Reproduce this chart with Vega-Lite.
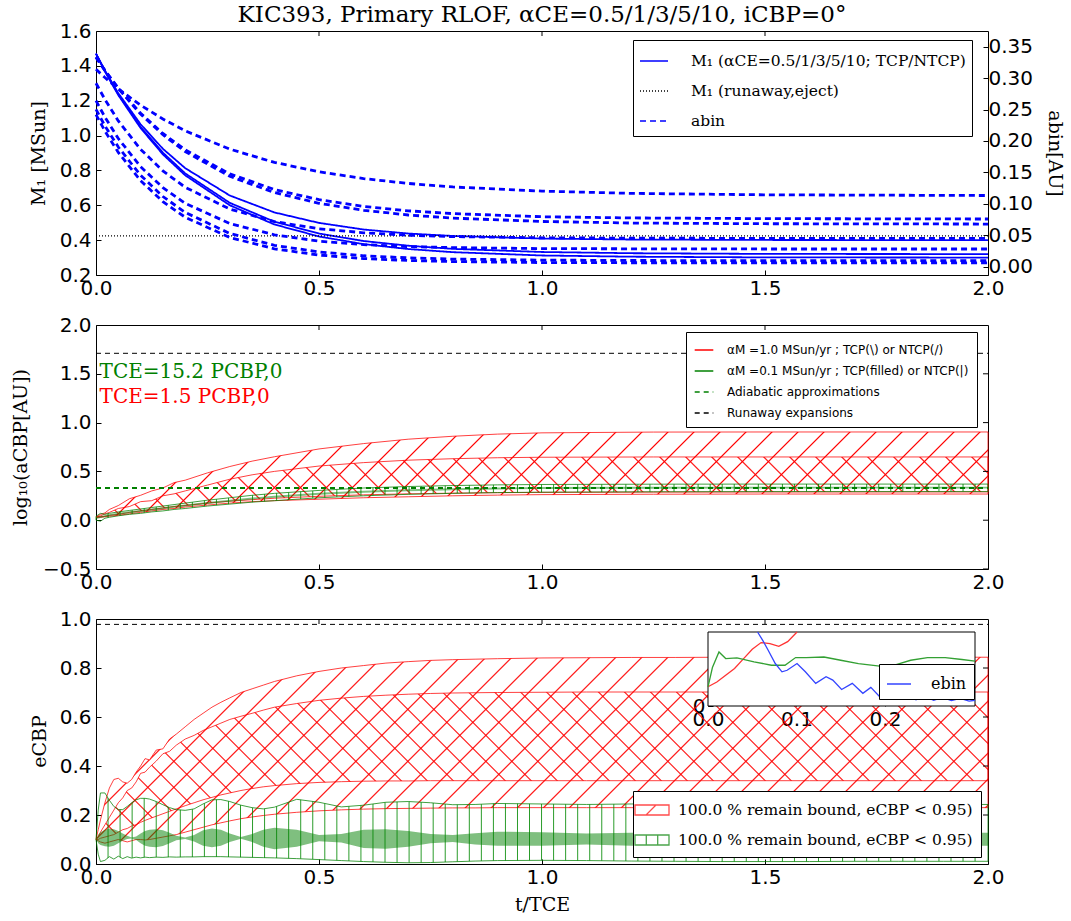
{
"$schema": "https://vega.github.io/schema/vega-lite/v6.json",
"background": "white",
"padding": {"left": 10, "top": 3, "right": 10, "bottom": 0},
"bounds": "flush",
"spacing": 50,
"config": {
  "font": "DejaVu Sans",
  "view": {"stroke": "black", "strokeWidth": 1},
  "axis": {"grid": false, "domain": false, "tickColor": "black", "tickSize": -5, "tickWidth": 1, "labelFont": "DejaVu Sans", "labelFontSize": 20, "labelColor": "black", "titleFont": "DejaVu Serif", "titleFontSize": 19, "titleFontWeight": "normal", "titleColor": "black", "labelOverlap": false, "labelFlush": false, "labelBound": false},
  "axisX": {"labelPadding": 8},
  "axisY": {"labelPadding": 10},
  "legend": {"labelColor": "black", "cornerRadius": 0, "strokeWidth": 1}
},
"params": [
  {"name": "gR", "value": {"gradient": "linear", "x1": 0, "y1": 0, "x2": 1, "y2": 0, "stops": [
{"offset":0.0188,"color":"#f000"},{"offset":0.02,"color":"#f00"},{"offset":0.0212,"color":"#f000"},
{"offset":0.0388,"color":"#f000"},{"offset":0.04,"color":"#f00"},{"offset":0.0412,"color":"#f000"},
{"offset":0.0588,"color":"#f000"},{"offset":0.06,"color":"#f00"},{"offset":0.0612,"color":"#f000"},
{"offset":0.0788,"color":"#f000"},{"offset":0.08,"color":"#f00"},{"offset":0.0812,"color":"#f000"},
{"offset":0.0988,"color":"#f000"},{"offset":0.1,"color":"#f00"},{"offset":0.1012,"color":"#f000"},
{"offset":0.1188,"color":"#f000"},{"offset":0.12,"color":"#f00"},{"offset":0.1212,"color":"#f000"},
{"offset":0.1388,"color":"#f000"},{"offset":0.14,"color":"#f00"},{"offset":0.1412,"color":"#f000"},
{"offset":0.1588,"color":"#f000"},{"offset":0.16,"color":"#f00"},{"offset":0.1612,"color":"#f000"},
{"offset":0.1788,"color":"#f000"},{"offset":0.18,"color":"#f00"},{"offset":0.1812,"color":"#f000"},
{"offset":0.1988,"color":"#f000"},{"offset":0.2,"color":"#f00"},{"offset":0.2012,"color":"#f000"},
{"offset":0.2188,"color":"#f000"},{"offset":0.22,"color":"#f00"},{"offset":0.2212,"color":"#f000"},
{"offset":0.2388,"color":"#f000"},{"offset":0.24,"color":"#f00"},{"offset":0.2412,"color":"#f000"},
{"offset":0.2588,"color":"#f000"},{"offset":0.26,"color":"#f00"},{"offset":0.2612,"color":"#f000"},
{"offset":0.2788,"color":"#f000"},{"offset":0.28,"color":"#f00"},{"offset":0.2812,"color":"#f000"},
{"offset":0.2988,"color":"#f000"},{"offset":0.3,"color":"#f00"},{"offset":0.3012,"color":"#f000"},
{"offset":0.3188,"color":"#f000"},{"offset":0.32,"color":"#f00"},{"offset":0.3212,"color":"#f000"},
{"offset":0.3388,"color":"#f000"},{"offset":0.34,"color":"#f00"},{"offset":0.3412,"color":"#f000"},
{"offset":0.3588,"color":"#f000"},{"offset":0.36,"color":"#f00"},{"offset":0.3612,"color":"#f000"},
{"offset":0.3788,"color":"#f000"},{"offset":0.38,"color":"#f00"},{"offset":0.3812,"color":"#f000"},
{"offset":0.3988,"color":"#f000"},{"offset":0.4,"color":"#f00"},{"offset":0.4012,"color":"#f000"},
{"offset":0.4188,"color":"#f000"},{"offset":0.42,"color":"#f00"},{"offset":0.4212,"color":"#f000"},
{"offset":0.4388,"color":"#f000"},{"offset":0.44,"color":"#f00"},{"offset":0.4412,"color":"#f000"},
{"offset":0.4588,"color":"#f000"},{"offset":0.46,"color":"#f00"},{"offset":0.4612,"color":"#f000"},
{"offset":0.4788,"color":"#f000"},{"offset":0.48,"color":"#f00"},{"offset":0.4812,"color":"#f000"},
{"offset":0.4988,"color":"#f000"},{"offset":0.5,"color":"#f00"},{"offset":0.5012,"color":"#f000"},
{"offset":0.5188,"color":"#f000"},{"offset":0.52,"color":"#f00"},{"offset":0.5212,"color":"#f000"},
{"offset":0.5388,"color":"#f000"},{"offset":0.54,"color":"#f00"},{"offset":0.5412,"color":"#f000"},
{"offset":0.5588,"color":"#f000"},{"offset":0.56,"color":"#f00"},{"offset":0.5612,"color":"#f000"},
{"offset":0.5788,"color":"#f000"},{"offset":0.58,"color":"#f00"},{"offset":0.5812,"color":"#f000"},
{"offset":0.5988,"color":"#f000"},{"offset":0.6,"color":"#f00"},{"offset":0.6012,"color":"#f000"},
{"offset":0.6188,"color":"#f000"},{"offset":0.62,"color":"#f00"},{"offset":0.6212,"color":"#f000"},
{"offset":0.6388,"color":"#f000"},{"offset":0.64,"color":"#f00"},{"offset":0.6412,"color":"#f000"},
{"offset":0.6588,"color":"#f000"},{"offset":0.66,"color":"#f00"},{"offset":0.6612,"color":"#f000"},
{"offset":0.6788,"color":"#f000"},{"offset":0.68,"color":"#f00"},{"offset":0.6812,"color":"#f000"},
{"offset":0.6988,"color":"#f000"},{"offset":0.7,"color":"#f00"},{"offset":0.7012,"color":"#f000"},
{"offset":0.7188,"color":"#f000"},{"offset":0.72,"color":"#f00"},{"offset":0.7212,"color":"#f000"},
{"offset":0.7388,"color":"#f000"},{"offset":0.74,"color":"#f00"},{"offset":0.7412,"color":"#f000"},
{"offset":0.7588,"color":"#f000"},{"offset":0.76,"color":"#f00"},{"offset":0.7612,"color":"#f000"},
{"offset":0.7788,"color":"#f000"},{"offset":0.78,"color":"#f00"},{"offset":0.7812,"color":"#f000"},
{"offset":0.7988,"color":"#f000"},{"offset":0.8,"color":"#f00"},{"offset":0.8012,"color":"#f000"},
{"offset":0.8188,"color":"#f000"},{"offset":0.82,"color":"#f00"},{"offset":0.8212,"color":"#f000"},
{"offset":0.8388,"color":"#f000"},{"offset":0.84,"color":"#f00"},{"offset":0.8412,"color":"#f000"}
  ]}},
  {"name": "gG", "value": {"gradient": "linear", "x1": 0, "y1": 0, "x2": 1, "y2": 0, "stops": [
{"offset":0.0124,"color":"#0800"},{"offset":0.0135,"color":"#080"},{"offset":0.0146,"color":"#0800"},
{"offset":0.0259,"color":"#0800"},{"offset":0.027,"color":"#080"},{"offset":0.0281,"color":"#0800"},
{"offset":0.0394,"color":"#0800"},{"offset":0.0405,"color":"#080"},{"offset":0.0416,"color":"#0800"},
{"offset":0.0529,"color":"#0800"},{"offset":0.054,"color":"#080"},{"offset":0.0551,"color":"#0800"},
{"offset":0.0664,"color":"#0800"},{"offset":0.0675,"color":"#080"},{"offset":0.0686,"color":"#0800"},
{"offset":0.0799,"color":"#0800"},{"offset":0.081,"color":"#080"},{"offset":0.0821,"color":"#0800"},
{"offset":0.0934,"color":"#0800"},{"offset":0.0945,"color":"#080"},{"offset":0.0956,"color":"#0800"},
{"offset":0.1069,"color":"#0800"},{"offset":0.108,"color":"#080"},{"offset":0.1091,"color":"#0800"},
{"offset":0.1204,"color":"#0800"},{"offset":0.1215,"color":"#080"},{"offset":0.1226,"color":"#0800"},
{"offset":0.1339,"color":"#0800"},{"offset":0.135,"color":"#080"},{"offset":0.1361,"color":"#0800"},
{"offset":0.1474,"color":"#0800"},{"offset":0.1485,"color":"#080"},{"offset":0.1496,"color":"#0800"},
{"offset":0.1609,"color":"#0800"},{"offset":0.162,"color":"#080"},{"offset":0.1631,"color":"#0800"},
{"offset":0.1744,"color":"#0800"},{"offset":0.1755,"color":"#080"},{"offset":0.1766,"color":"#0800"},
{"offset":0.1879,"color":"#0800"},{"offset":0.189,"color":"#080"},{"offset":0.1901,"color":"#0800"},
{"offset":0.2014,"color":"#0800"},{"offset":0.2025,"color":"#080"},{"offset":0.2036,"color":"#0800"},
{"offset":0.2149,"color":"#0800"},{"offset":0.216,"color":"#080"},{"offset":0.2171,"color":"#0800"},
{"offset":0.2284,"color":"#0800"},{"offset":0.2295,"color":"#080"},{"offset":0.2306,"color":"#0800"},
{"offset":0.2419,"color":"#0800"},{"offset":0.243,"color":"#080"},{"offset":0.2441,"color":"#0800"},
{"offset":0.2554,"color":"#0800"},{"offset":0.2565,"color":"#080"},{"offset":0.2576,"color":"#0800"},
{"offset":0.2689,"color":"#0800"},{"offset":0.27,"color":"#080"},{"offset":0.2711,"color":"#0800"},
{"offset":0.2824,"color":"#0800"},{"offset":0.2835,"color":"#080"},{"offset":0.2846,"color":"#0800"},
{"offset":0.2959,"color":"#0800"},{"offset":0.297,"color":"#080"},{"offset":0.2981,"color":"#0800"},
{"offset":0.3094,"color":"#0800"},{"offset":0.3105,"color":"#080"},{"offset":0.3116,"color":"#0800"},
{"offset":0.3229,"color":"#0800"},{"offset":0.324,"color":"#080"},{"offset":0.3251,"color":"#0800"},
{"offset":0.3364,"color":"#0800"},{"offset":0.3375,"color":"#080"},{"offset":0.3386,"color":"#0800"},
{"offset":0.3499,"color":"#0800"},{"offset":0.351,"color":"#080"},{"offset":0.3521,"color":"#0800"},
{"offset":0.3634,"color":"#0800"},{"offset":0.3645,"color":"#080"},{"offset":0.3656,"color":"#0800"},
{"offset":0.3769,"color":"#0800"},{"offset":0.378,"color":"#080"},{"offset":0.3791,"color":"#0800"},
{"offset":0.3904,"color":"#0800"},{"offset":0.3915,"color":"#080"},{"offset":0.3926,"color":"#0800"},
{"offset":0.4039,"color":"#0800"},{"offset":0.405,"color":"#080"},{"offset":0.4061,"color":"#0800"},
{"offset":0.4174,"color":"#0800"},{"offset":0.4185,"color":"#080"},{"offset":0.4196,"color":"#0800"},
{"offset":0.4309,"color":"#0800"},{"offset":0.432,"color":"#080"},{"offset":0.4331,"color":"#0800"},
{"offset":0.4444,"color":"#0800"},{"offset":0.4455,"color":"#080"},{"offset":0.4466,"color":"#0800"},
{"offset":0.4579,"color":"#0800"},{"offset":0.459,"color":"#080"},{"offset":0.4601,"color":"#0800"},
{"offset":0.4714,"color":"#0800"},{"offset":0.4725,"color":"#080"},{"offset":0.4736,"color":"#0800"},
{"offset":0.4849,"color":"#0800"},{"offset":0.486,"color":"#080"},{"offset":0.4871,"color":"#0800"},
{"offset":0.4984,"color":"#0800"},{"offset":0.4995,"color":"#080"},{"offset":0.5006,"color":"#0800"},
{"offset":0.5119,"color":"#0800"},{"offset":0.513,"color":"#080"},{"offset":0.5141,"color":"#0800"},
{"offset":0.5254,"color":"#0800"},{"offset":0.5265,"color":"#080"},{"offset":0.5276,"color":"#0800"},
{"offset":0.5389,"color":"#0800"},{"offset":0.54,"color":"#080"},{"offset":0.5411,"color":"#0800"},
{"offset":0.5524,"color":"#0800"},{"offset":0.5535,"color":"#080"},{"offset":0.5546,"color":"#0800"},
{"offset":0.5659,"color":"#0800"},{"offset":0.567,"color":"#080"},{"offset":0.5681,"color":"#0800"},
{"offset":0.5794,"color":"#0800"},{"offset":0.5805,"color":"#080"},{"offset":0.5816,"color":"#0800"},
{"offset":0.5929,"color":"#0800"},{"offset":0.594,"color":"#080"},{"offset":0.5951,"color":"#0800"},
{"offset":0.6064,"color":"#0800"},{"offset":0.6075,"color":"#080"},{"offset":0.6086,"color":"#0800"},
{"offset":0.6199,"color":"#0800"},{"offset":0.621,"color":"#080"},{"offset":0.6221,"color":"#0800"},
{"offset":0.6334,"color":"#0800"},{"offset":0.6345,"color":"#080"},{"offset":0.6356,"color":"#0800"},
{"offset":0.6469,"color":"#0800"},{"offset":0.648,"color":"#080"},{"offset":0.6491,"color":"#0800"},
{"offset":0.6604,"color":"#0800"},{"offset":0.6615,"color":"#080"},{"offset":0.6626,"color":"#0800"},
{"offset":0.6739,"color":"#0800"},{"offset":0.675,"color":"#080"},{"offset":0.6761,"color":"#0800"},
{"offset":0.6874,"color":"#0800"},{"offset":0.6885,"color":"#080"},{"offset":0.6896,"color":"#0800"},
{"offset":0.7009,"color":"#0800"},{"offset":0.702,"color":"#080"},{"offset":0.7031,"color":"#0800"},
{"offset":0.7144,"color":"#0800"},{"offset":0.7155,"color":"#080"},{"offset":0.7166,"color":"#0800"},
{"offset":0.7279,"color":"#0800"},{"offset":0.729,"color":"#080"},{"offset":0.7301,"color":"#0800"},
{"offset":0.7414,"color":"#0800"},{"offset":0.7425,"color":"#080"},{"offset":0.7436,"color":"#0800"},
{"offset":0.7549,"color":"#0800"},{"offset":0.756,"color":"#080"},{"offset":0.7571,"color":"#0800"},
{"offset":0.7684,"color":"#0800"},{"offset":0.7695,"color":"#080"},{"offset":0.7706,"color":"#0800"},
{"offset":0.7819,"color":"#0800"},{"offset":0.783,"color":"#080"},{"offset":0.7841,"color":"#0800"},
{"offset":0.7954,"color":"#0800"},{"offset":0.7965,"color":"#080"},{"offset":0.7976,"color":"#0800"},
{"offset":0.8089,"color":"#0800"},{"offset":0.81,"color":"#080"},{"offset":0.8111,"color":"#0800"},
{"offset":0.8224,"color":"#0800"},{"offset":0.8235,"color":"#080"},{"offset":0.8246,"color":"#0800"},
{"offset":0.8359,"color":"#0800"},{"offset":0.837,"color":"#080"},{"offset":0.8381,"color":"#0800"},
{"offset":0.8494,"color":"#0800"},{"offset":0.8505,"color":"#080"},{"offset":0.8516,"color":"#0800"},
{"offset":0.8629,"color":"#0800"},{"offset":0.864,"color":"#080"},{"offset":0.8651,"color":"#0800"},
{"offset":0.8764,"color":"#0800"},{"offset":0.8775,"color":"#080"},{"offset":0.8786,"color":"#0800"},
{"offset":0.8899,"color":"#0800"},{"offset":0.891,"color":"#080"},{"offset":0.8921,"color":"#0800"},
{"offset":0.9034,"color":"#0800"},{"offset":0.9045,"color":"#080"},{"offset":0.9056,"color":"#0800"},
{"offset":0.9169,"color":"#0800"},{"offset":0.918,"color":"#080"},{"offset":0.9191,"color":"#0800"},
{"offset":0.9304,"color":"#0800"},{"offset":0.9315,"color":"#080"},{"offset":0.9326,"color":"#0800"},
{"offset":0.9439,"color":"#0800"},{"offset":0.945,"color":"#080"},{"offset":0.9461,"color":"#0800"},
{"offset":0.9574,"color":"#0800"},{"offset":0.9585,"color":"#080"},{"offset":0.9596,"color":"#0800"},
{"offset":0.9709,"color":"#0800"},{"offset":0.972,"color":"#080"},{"offset":0.9731,"color":"#0800"},
{"offset":0.9844,"color":"#0800"},{"offset":0.9855,"color":"#080"},{"offset":0.9866,"color":"#0800"}
  ]}}
],
"datasets": {
  "p1": [
    {"t":0,"S1":1.47,"S2":1.47,"S3":1.47,"D1":0.314,"D2":0.3334,"D3":0.3334,"D4":0.2918,"D5":0.2641,"D6":0.2502,"D7":0.2419},
    {"t":0.02,"S1":1.373,"S2":1.37,"S3":1.368,"D1":0.3009,"D2":0.3123,"D3":0.312,"D4":0.266,"D5":0.238,"D6":0.2241,"D7":0.2158},
    {"t":0.05,"S1":1.243,"S2":1.237,"S3":1.232,"D1":0.2829,"D2":0.284,"D3":0.2835,"D4":0.2319,"D5":0.2039,"D6":0.1903,"D7":0.1817},
    {"t":0.1,"S1":1.065,"S2":1.05,"S3":1.043,"D1":0.2569,"D2":0.2441,"D3":0.2427,"D4":0.1867,"D5":0.159,"D6":0.1454,"D7":0.1368},
    {"t":0.15,"S1":0.924,"S2":0.902,"S3":0.892,"D1":0.235,"D2":0.2119,"D3":0.21,"D4":0.1523,"D5":0.1257,"D6":0.1116,"D7":0.1035},
    {"t":0.2,"S1":0.813,"S2":0.783,"S3":0.772,"D1":0.2161,"D2":0.1859,"D3":0.1831,"D4":0.1263,"D5":0.1008,"D6":0.0863,"D7":0.0786},
    {"t":0.3,"S1":0.656,"S2":0.614,"S3":0.6,"D1":0.187,"D2":0.1476,"D3":0.1437,"D4":0.0916,"D5":0.0686,"D6":0.0528,"D7":0.0464},
    {"t":0.4,"S1":0.559,"S2":0.506,"S3":0.49,"D1":0.1659,"D2":0.1227,"D3":0.1179,"D4":0.0716,"D5":0.0506,"D6":0.0339,"D7":0.0284},
    {"t":0.5,"S1":0.499,"S2":0.438,"S3":0.421,"D1":0.1509,"D2":0.1066,"D3":0.1008,"D4":0.0603,"D5":0.0406,"D6":0.0234,"D7":0.0184},
    {"t":0.6,"S1":0.461,"S2":0.395,"S3":0.377,"D1":0.1401,"D2":0.0958,"D3":0.0897,"D4":0.0539,"D5":0.035,"D6":0.0173,"D7":0.0129},
    {"t":0.7,"S1":0.438,"S2":0.368,"S3":0.349,"D1":0.1324,"D2":0.0888,"D3":0.0822,"D4":0.05,"D5":0.032,"D6":0.014,"D7":0.0098},
    {"t":0.8,"S1":0.424,"S2":0.35,"S3":0.331,"D1":0.1268,"D2":0.0844,"D3":0.0772,"D4":0.0478,"D5":0.0303,"D6":0.012,"D7":0.0081},
    {"t":1.0,"S1":0.409,"S2":0.332,"S3":0.312,"D1":0.1202,"D2":0.0794,"D3":0.0719,"D4":0.0459,"D5":0.0287,"D6":0.0104,"D7":0.0065},
    {"t":1.2,"S1":0.4035,"S2":0.325,"S3":0.305,"D1":0.1166,"D2":0.0775,"D3":0.0694,"D4":0.0453,"D5":0.0284,"D6":0.0098,"D7":0.0062},
    {"t":1.5,"S1":0.401,"S2":0.321,"S3":0.301,"D1":0.1143,"D2":0.0764,"D3":0.0683,"D4":0.045,"D5":0.0281,"D6":0.0095,"D7":0.0059},
    {"t":2.0,"S1":0.4,"S2":0.32,"S3":0.3,"D1":0.1132,"D2":0.0758,"D3":0.0678,"D4":0.045,"D5":0.0281,"D6":0.0095,"D7":0.0059}
  ],
  "p2": [
    {"t":0,"rU":0.03,"rM":0.03,"rL":0.03,"rL2":0.03,"gU":0.04,"gL":0.0,"fU":0.032,"fL":0.012},
    {"t":0.01,"rU":0.06,"rM":0.045,"rL":0.03,"rL2":0.035,"gU":0.07,"gL":-0.01,"fU":0.042,"fL":0.022},
    {"t":0.02,"rU":0.075,"rM":0.065,"rL":0.035,"rL2":0.04,"gU":0.06,"gL":0.02,"fU":0.052,"fL":0.032},
    {"t":0.03,"rU":0.11,"rM":0.08,"rL":0.04,"rL2":0.05,"gU":0.07,"gL":0.03,"fU":0.062,"fL":0.042},
    {"t":0.05,"rU":0.15,"rM":0.12,"rL":0.05,"rL2":0.06,"gU":0.085,"gL":0.045,"fU":0.077,"fL":0.057},
    {"t":0.075,"rU":0.22,"rM":0.14,"rL":0.065,"rL2":0.08,"gU":0.1,"gL":0.06,"fU":0.092,"fL":0.072},
    {"t":0.1,"rU":0.255,"rM":0.19,"rL":0.08,"rL2":0.095,"gU":0.115,"gL":0.07,"fU":0.105,"fL":0.085},
    {"t":0.125,"rU":0.3,"rM":0.2,"rL":0.095,"rL2":0.11,"gU":0.13,"gL":0.085,"fU":0.12,"fL":0.1},
    {"t":0.15,"rU":0.33,"rM":0.25,"rL":0.11,"rL2":0.125,"gU":0.145,"gL":0.095,"fU":0.132,"fL":0.112},
    {"t":0.175,"rU":0.385,"rM":0.27,"rL":0.12,"rL2":0.14,"gU":0.16,"gL":0.11,"fU":0.147,"fL":0.127},
    {"t":0.2,"rU":0.41,"rM":0.3,"rL":0.135,"rL2":0.15,"gU":0.175,"gL":0.12,"fU":0.16,"fL":0.14},
    {"t":0.25,"rU":0.485,"rM":0.36,"rL":0.155,"rL2":0.175,"gU":0.205,"gL":0.145,"fU":0.187,"fL":0.167},
    {"t":0.3,"rU":0.55,"rM":0.42,"rL":0.175,"rL2":0.195,"gU":0.23,"gL":0.165,"fU":0.21,"fL":0.19},
    {"t":0.35,"rU":0.605,"rM":0.465,"rL":0.19,"rL2":0.21,"gU":0.255,"gL":0.185,"fU":0.232,"fL":0.212},
    {"t":0.4,"rU":0.65,"rM":0.5,"rL":0.2,"rL2":0.225,"gU":0.275,"gL":0.2,"fU":0.25,"fL":0.23},
    {"t":0.5,"rU":0.73,"rM":0.555,"rL":0.215,"rL2":0.245,"gU":0.305,"gL":0.23,"fU":0.28,"fL":0.26},
    {"t":0.6,"rU":0.785,"rM":0.59,"rL":0.23,"rL2":0.26,"gU":0.33,"gL":0.25,"fU":0.302,"fL":0.282},
    {"t":0.7,"rU":0.83,"rM":0.615,"rL":0.24,"rL2":0.27,"gU":0.345,"gL":0.265,"fU":0.317,"fL":0.297},
    {"t":0.8,"rU":0.86,"rM":0.63,"rL":0.25,"rL2":0.277,"gU":0.355,"gL":0.275,"fU":0.327,"fL":0.307},
    {"t":0.9,"rU":0.882,"rM":0.64,"rL":0.257,"rL2":0.282,"gU":0.362,"gL":0.283,"fU":0.335,"fL":0.315},
    {"t":1.0,"rU":0.895,"rM":0.645,"rL":0.262,"rL2":0.285,"gU":0.366,"gL":0.287,"fU":0.339,"fL":0.319},
    {"t":1.25,"rU":0.903,"rM":0.648,"rL":0.266,"rL2":0.288,"gU":0.369,"gL":0.291,"fU":0.342,"fL":0.322},
    {"t":1.5,"rU":0.904,"rM":0.648,"rL":0.268,"rL2":0.289,"gU":0.37,"gL":0.293,"fU":0.344,"fL":0.324},
    {"t":2.0,"rU":0.904,"rM":0.648,"rL":0.268,"rL2":0.29,"gU":0.37,"gL":0.293,"fU":0.344,"fL":0.324}
  ],
  "p3": [
    {"t":0,"U":0.1,"T":0.1,"M":0.1,"L":0.1,"gU":0.1,"gL":0.1,"fU":0.1,"fL":0.1},
    {"t":0.005,"U":0.14,"T":0.11,"M":0.1,"L":0.095,"gU":0.22,"gL":0.04,"fU":0.12,"fL":0.085},
    {"t":0.01,"U":0.18,"T":0.13,"M":0.105,"L":0.09,"gU":0.29,"gL":0.01,"fU":0.13,"fL":0.078},
    {"t":0.02,"U":0.25,"T":0.16,"M":0.11,"L":0.085,"gU":0.29,"gL":0.015,"fU":0.14,"fL":0.072},
    {"t":0.03,"U":0.31,"T":0.19,"M":0.115,"L":0.09,"gU":0.26,"gL":0.03,"fU":0.145,"fL":0.07},
    {"t":0.04,"U":0.345,"T":0.22,"M":0.12,"L":0.095,"gU":0.235,"gL":0.02,"fU":0.142,"fL":0.075},
    {"t":0.05,"U":0.35,"T":0.25,"M":0.13,"L":0.1,"gU":0.222,"gL":0.032,"fU":0.135,"fL":0.085},
    {"t":0.06,"U":0.335,"T":0.27,"M":0.14,"L":0.095,"gU":0.222,"gL":0.022,"fU":0.125,"fL":0.095},
    {"t":0.07,"U":0.33,"T":0.3,"M":0.145,"L":0.09,"gU":0.235,"gL":0.03,"fU":0.115,"fL":0.102},
    {"t":0.08,"U":0.345,"T":0.31,"M":0.155,"L":0.095,"gU":0.25,"gL":0.024,"fU":0.108,"fL":0.104},
    {"t":0.09,"U":0.375,"T":0.335,"M":0.16,"L":0.1,"gU":0.262,"gL":0.028,"fU":0.112,"fL":0.098},
    {"t":0.1,"U":0.4,"T":0.37,"M":0.17,"L":0.1,"gU":0.268,"gL":0.025,"fU":0.125,"fL":0.085},
    {"t":0.11,"U":0.43,"T":0.375,"M":0.178,"L":0.098,"gU":0.268,"gL":0.028,"fU":0.135,"fL":0.075},
    {"t":0.12,"U":0.425,"T":0.395,"M":0.185,"L":0.1,"gU":0.265,"gL":0.026,"fU":0.14,"fL":0.07},
    {"t":0.135,"U":0.465,"T":0.42,"M":0.195,"L":0.105,"gU":0.255,"gL":0.028,"fU":0.142,"fL":0.068},
    {"t":0.15,"U":0.47,"T":0.45,"M":0.205,"L":0.11,"gU":0.242,"gL":0.027,"fU":0.138,"fL":0.073},
    {"t":0.165,"U":0.51,"T":0.46,"M":0.215,"L":0.115,"gU":0.23,"gL":0.029,"fU":0.128,"fL":0.085},
    {"t":0.18,"U":0.53,"T":0.485,"M":0.225,"L":0.12,"gU":0.222,"gL":0.028,"fU":0.115,"fL":0.097},
    {"t":0.2,"U":0.56,"T":0.51,"M":0.238,"L":0.13,"gU":0.219,"gL":0.029,"fU":0.108,"fL":0.102},
    {"t":0.22,"U":0.59,"T":0.525,"M":0.25,"L":0.14,"gU":0.225,"gL":0.029,"fU":0.118,"fL":0.092},
    {"t":0.24,"U":0.615,"T":0.545,"M":0.262,"L":0.15,"gU":0.245,"gL":0.03,"fU":0.138,"fL":0.075},
    {"t":0.26,"U":0.64,"T":0.56,"M":0.272,"L":0.16,"gU":0.262,"gL":0.03,"fU":0.145,"fL":0.068},
    {"t":0.28,"U":0.66,"T":0.575,"M":0.282,"L":0.168,"gU":0.263,"gL":0.03,"fU":0.14,"fL":0.075},
    {"t":0.3,"U":0.678,"T":0.59,"M":0.29,"L":0.176,"gU":0.255,"gL":0.029,"fU":0.125,"fL":0.09},
    {"t":0.325,"U":0.7,"T":0.603,"M":0.3,"L":0.185,"gU":0.24,"gL":0.028,"fU":0.11,"fL":0.103},
    {"t":0.35,"U":0.715,"T":0.615,"M":0.308,"L":0.192,"gU":0.23,"gL":0.027,"fU":0.122,"fL":0.09},
    {"t":0.375,"U":0.73,"T":0.628,"M":0.315,"L":0.198,"gU":0.225,"gL":0.026,"fU":0.14,"fL":0.07},
    {"t":0.4,"U":0.745,"T":0.64,"M":0.32,"L":0.203,"gU":0.232,"gL":0.025,"fU":0.148,"fL":0.06},
    {"t":0.45,"U":0.768,"T":0.655,"M":0.328,"L":0.211,"gU":0.264,"gL":0.022,"fU":0.14,"fL":0.07},
    {"t":0.5,"U":0.786,"T":0.668,"M":0.333,"L":0.217,"gU":0.252,"gL":0.018,"fU":0.118,"fL":0.093},
    {"t":0.55,"U":0.8,"T":0.677,"M":0.336,"L":0.221,"gU":0.233,"gL":0.014,"fU":0.122,"fL":0.088},
    {"t":0.6,"U":0.81,"T":0.684,"M":0.338,"L":0.224,"gU":0.24,"gL":0.01,"fU":0.14,"fL":0.065},
    {"t":0.65,"U":0.82,"T":0.689,"M":0.339,"L":0.226,"gU":0.252,"gL":0.007,"fU":0.142,"fL":0.062},
    {"t":0.7,"U":0.826,"T":0.693,"M":0.339,"L":0.227,"gU":0.255,"gL":0.005,"fU":0.135,"fL":0.07},
    {"t":0.75,"U":0.831,"T":0.696,"M":0.34,"L":0.228,"gU":0.25,"gL":0.006,"fU":0.122,"fL":0.085},
    {"t":0.8,"U":0.834,"T":0.698,"M":0.34,"L":0.229,"gU":0.242,"gL":0.009,"fU":0.118,"fL":0.09},
    {"t":0.85,"U":0.836,"T":0.699,"M":0.34,"L":0.229,"gU":0.243,"gL":0.012,"fU":0.126,"fL":0.08},
    {"t":0.9,"U":0.838,"T":0.7,"M":0.34,"L":0.23,"gU":0.247,"gL":0.014,"fU":0.132,"fL":0.074},
    {"t":1.0,"U":0.841,"T":0.701,"M":0.34,"L":0.23,"gU":0.245,"gL":0.015,"fU":0.13,"fL":0.075},
    {"t":1.1,"U":0.842,"T":0.702,"M":0.34,"L":0.23,"gU":0.243,"gL":0.014,"fU":0.124,"fL":0.08},
    {"t":1.2,"U":0.843,"T":0.702,"M":0.34,"L":0.23,"gU":0.245,"gL":0.012,"fU":0.128,"fL":0.075},
    {"t":1.3,"U":0.843,"T":0.702,"M":0.34,"L":0.23,"gU":0.244,"gL":0.011,"fU":0.13,"fL":0.072},
    {"t":1.4,"U":0.844,"T":0.702,"M":0.34,"L":0.23,"gU":0.243,"gL":0.01,"fU":0.127,"fL":0.076},
    {"t":1.5,"U":0.844,"T":0.702,"M":0.34,"L":0.23,"gU":0.244,"gL":0.01,"fU":0.128,"fL":0.073},
    {"t":1.6,"U":0.844,"T":0.702,"M":0.34,"L":0.23,"gU":0.243,"gL":0.01,"fU":0.13,"fL":0.072},
    {"t":1.7,"U":0.844,"T":0.702,"M":0.34,"L":0.23,"gU":0.243,"gL":0.011,"fU":0.128,"fL":0.074},
    {"t":1.8,"U":0.844,"T":0.702,"M":0.34,"L":0.23,"gU":0.243,"gL":0.011,"fU":0.127,"fL":0.075},
    {"t":1.9,"U":0.844,"T":0.702,"M":0.34,"L":0.23,"gU":0.243,"gL":0.011,"fU":0.129,"fL":0.073},
    {"t":2.0,"U":0.844,"T":0.702,"M":0.34,"L":0.23,"gU":0.243,"gL":0.011,"fU":0.128,"fL":0.074}
  ],
  "inset": [
    {"s":"r","t":0,"v":0.1},{"s":"r","t":0.01,"v":0.125},{"s":"r","t":0.02,"v":0.16},{"s":"r","t":0.03,"v":0.195},{"s":"r","t":0.04,"v":0.245},{"s":"r","t":0.05,"v":0.295},{"s":"r","t":0.06,"v":0.33},{"s":"r","t":0.07,"v":0.325},{"s":"r","t":0.08,"v":0.31},{"s":"r","t":0.09,"v":0.335},{"s":"r","t":0.1006,"v":0.385},
    {"s":"g","t":0,"v":0.1},{"s":"g","t":0.005,"v":0.2},{"s":"g","t":0.0124,"v":0.281},{"s":"g","t":0.02,"v":0.247},{"s":"g","t":0.0327,"v":0.25},{"s":"g","t":0.052,"v":0.23},{"s":"g","t":0.0716,"v":0.212},{"s":"g","t":0.087,"v":0.212},{"s":"g","t":0.099,"v":0.252},{"s":"g","t":0.111,"v":0.252},{"s":"g","t":0.131,"v":0.255},{"s":"g","t":0.15,"v":0.238},{"s":"g","t":0.17,"v":0.221},{"s":"g","t":0.194,"v":0.207},{"s":"g","t":0.209,"v":0.21},{"s":"g","t":0.229,"v":0.238},{"s":"g","t":0.248,"v":0.252},{"s":"g","t":0.268,"v":0.252},{"s":"g","t":0.287,"v":0.242},{"s":"g","t":0.3017,"v":0.233},
    {"s":"ebin","t":0.056,"v":0.385},{"s":"ebin","t":0.062,"v":0.34},{"s":"ebin","t":0.068,"v":0.29},{"s":"ebin","t":0.076,"v":0.221},{"s":"ebin","t":0.0836,"v":0.178},{"s":"ebin","t":0.0894,"v":0.186},{"s":"ebin","t":0.1006,"v":0.221},{"s":"ebin","t":0.11,"v":0.178},{"s":"ebin","t":0.1217,"v":0.118},{"s":"ebin","t":0.1334,"v":0.152},{"s":"ebin","t":0.141,"v":0.135},{"s":"ebin","t":0.151,"v":0.086},{"s":"ebin","t":0.163,"v":0.118},{"s":"ebin","t":0.175,"v":0.066},{"s":"ebin","t":0.184,"v":0.097},{"s":"ebin","t":0.194,"v":0.048},{"s":"ebin","t":0.205,"v":0.07},{"s":"ebin","t":0.215,"v":0.04},{"s":"ebin","t":0.225,"v":0.058},{"s":"ebin","t":0.235,"v":0.032},{"s":"ebin","t":0.245,"v":0.05},{"s":"ebin","t":0.255,"v":0.03},{"s":"ebin","t":0.265,"v":0.045},{"s":"ebin","t":0.275,"v":0.028},{"s":"ebin","t":0.285,"v":0.04},{"s":"ebin","t":0.295,"v":0.025},{"s":"ebin","t":0.3017,"v":0.03}
  ]
},
"resolve": {"scale": {"stroke": "independent", "strokeDash": "independent", "shape": "independent", "color": "independent"}, "legend": {"stroke": "independent", "strokeDash": "independent", "shape": "independent"}},
"vconcat": [
  {
    "width": 892, "height": 244,
    "title": {"text": "KIC393, Primary RLOF, αCE=0.5/1/3/5/10, iCBP=0°", "frame": "group", "anchor": "middle", "font": "DejaVu Serif", "fontSize": 23, "fontWeight": "normal", "baseline": "alphabetic", "offset": -24, "color": "black"},
    "data": {"name": "p1"},
    "encoding": {
      "x": {"field": "t", "type": "quantitative", "scale": {"domain": [0, 2], "nice": false, "zero": false}, "axis": {"values": [0, 0.5, 1, 1.5, 2], "format": ".1f", "title": null}}
    },
    "layer": [
      {
        "transform": [{"fold": ["S1", "S2", "S3"], "as": ["s", "m"]}],
        "mark": {"type": "line", "strokeWidth": 1.8},
        "encoding": {
          "y": {"field": "m", "type": "quantitative", "scale": {"domain": [0.2, 1.6], "nice": false, "zero": false}, "axis": {"values": [0.2, 0.4, 0.6, 0.8, 1.0, 1.2, 1.4, 1.6], "format": ".1f", "title": "M₁ [MSun]", "titleX": -58, "titleY": 122, "titleAngle": -90, "titleBaseline": "middle"}},
          "detail": {"field": "s"},
          "stroke": {"datum": "M₁ (αCE=0.5/1/3/5/10; TCP/NTCP)", "type": "nominal", "scale": {"domain": ["M₁ (αCE=0.5/1/3/5/10; TCP/NTCP)", "M₁ (runaway,eject)", "abin"], "range": ["#0000ff", "#000000", "#0000ff"]}, "legend": {"orient": "none", "legendX": 537, "legendY": 9, "title": null, "fillColor": "white", "strokeColor": "black", "padding": 6, "labelFont": "DejaVu Serif", "labelFontSize": 15.5, "symbolSize": 784, "labelOffset": 22, "rowPadding": 6, "symbolStrokeWidth": 1.5, "labelLimit": 400}},
          "strokeDash": {"datum": "M₁ (αCE=0.5/1/3/5/10; TCP/NTCP)", "type": "nominal", "scale": {"domain": ["M₁ (αCE=0.5/1/3/5/10; TCP/NTCP)", "M₁ (runaway,eject)", "abin"], "range": [[1, 0], [1, 2], [6, 4]]}, "legend": {"orient": "none", "legendX": 537, "legendY": 9, "title": null, "fillColor": "white", "strokeColor": "black", "padding": 6, "labelFont": "DejaVu Serif", "labelFontSize": 15.5, "symbolSize": 784, "labelOffset": 22, "rowPadding": 6, "symbolStrokeWidth": 1.5, "labelLimit": 400}}
        }
      },
      {
        "data": {"values": [{"t": 0, "m": 0.425}, {"t": 2, "m": 0.425}]},
        "mark": {"type": "line", "strokeWidth": 1.2},
        "encoding": {
          "y": {"field": "m", "type": "quantitative", "scale": {"domain": [0.2, 1.6], "nice": false, "zero": false}, "axis": null},
          "stroke": {"datum": "M₁ (runaway,eject)", "type": "nominal"},
          "strokeDash": {"datum": "M₁ (runaway,eject)", "type": "nominal"}
        }
      },
      {
        "data": {"values": [{"x": 0.5, "y": 1.6}, {"x": 1, "y": 1.6}, {"x": 1.5, "y": 1.6}]},
        "mark": {"type": "tick", "orient": "vertical", "size": 10, "thickness": 1, "color": "black", "opacity": 1, "clip": true},
        "encoding": {
          "x": {"field": "x", "type": "quantitative"},
          "y": {"field": "y", "type": "quantitative", "scale": {"domain": [0.2, 1.6], "nice": false, "zero": false}, "axis": null}
        }
      },
      {
        "transform": [{"fold": ["D1", "D2", "D3", "D4", "D5", "D6", "D7"], "as": ["s", "a"]}],
        "mark": {"type": "line", "strokeWidth": 2.8},
        "encoding": {
          "y": {"field": "a", "type": "quantitative", "scale": {"domain": [-0.0133, 0.375], "nice": false, "zero": false}, "axis": {"orient": "right", "values": [0, 0.05, 0.1, 0.15, 0.2, 0.25, 0.3, 0.35], "format": ".2f", "title": "abin[AU]", "titleX": 66, "titleY": 122, "titleAngle": 90, "titleBaseline": "middle", "labelPadding": 5}},
          "detail": {"field": "s"},
          "stroke": {"datum": "abin", "type": "nominal"},
          "strokeDash": {"datum": "abin", "type": "nominal"}
        }
      }
    ],
    "resolve": {"scale": {"y": "independent"}}
  },
  {
    "width": 892, "height": 244,
    "data": {"name": "p2"},
    "encoding": {
      "x": {"field": "t", "type": "quantitative", "scale": {"domain": [0, 2], "nice": false, "zero": false}, "axis": {"values": [0, 0.5, 1, 1.5, 2], "format": ".1f", "title": null}}
    },
    "layer": [
      {
        "mark": {"type": "area", "fill": {"expr": "merge(gR, {x2: 1.4442, y2: 0.1381})"}, "stroke": "#ff0000", "strokeWidth": 1, "strokeOpacity": 0.75},
        "encoding": {
          "y": {"field": "rL", "type": "quantitative", "scale": {"domain": [-0.5, 2], "nice": false, "zero": false}, "axis": {"values": [-0.5, 0, 0.5, 1, 1.5, 2], "format": ".1f", "title": "log₁₀(aCBP[AU])", "titleX": -76, "titleY": 122, "titleAngle": -90, "titleBaseline": "middle"}},
          "y2": {"field": "rU"}
        }
      },
      {
        "mark": {"type": "area", "fill": {"expr": "merge(gR, {x1: 0, y1: 1, x2: 1.4508, y2: 0.9019})"}, "stroke": "#ff0000", "strokeWidth": 1, "strokeOpacity": 0.75},
        "encoding": {
          "y": {"field": "rL2", "type": "quantitative", "scale": {"domain": [-0.5, 2], "nice": false, "zero": false}},
          "y2": {"field": "rM"}
        }
      },
      {
        "mark": {"type": "area", "fill": {"expr": "gG"}, "fillOpacity": 0.85, "stroke": "#008000", "strokeWidth": 1, "strokeOpacity": 0.75},
        "encoding": {
          "y": {"field": "gL", "type": "quantitative", "scale": {"domain": [-0.5, 2], "nice": false, "zero": false}},
          "y2": {"field": "gU"}
        }
      },
      {
        "mark": {"type": "area", "fill": "#008000", "fillOpacity": 0.5},
        "encoding": {
          "y": {"field": "fL", "type": "quantitative", "scale": {"domain": [-0.5, 2], "nice": false, "zero": false}},
          "y2": {"field": "fU"}
        }
      },
      {
        "data": {"values": [{"k": "Adiabatic approximations", "t": 0, "v": 0.33}, {"k": "Adiabatic approximations", "t": 2, "v": 0.33}]},
        "mark": {"type": "line", "strokeWidth": 2},
        "encoding": {
          "y": {"field": "v", "type": "quantitative", "scale": {"domain": [-0.5, 2], "nice": false, "zero": false}},
          "stroke": {"field": "k", "type": "nominal", "scale": {"domain": ["αM =1.0 MSun/yr ; TCP(\\) or NTCP(/)", "αM =0.1 MSun/yr ; TCP(filled) or NTCP(|)", "Adiabatic approximations", "Runaway expansions"], "range": ["#ff0000", "#008000", "#008000", "#000000"]}, "legend": {"orient": "none", "legendX": 590, "legendY": 7, "title": null, "fillColor": "white", "strokeColor": "black", "padding": 8, "labelFont": "DejaVu Sans", "labelFontSize": 12, "symbolSize": 346, "labelOffset": 13, "rowPadding": 5, "symbolStrokeWidth": 1.3, "labelLimit": 400}},
          "strokeDash": {"field": "k", "type": "nominal", "scale": {"domain": ["αM =1.0 MSun/yr ; TCP(\\) or NTCP(/)", "αM =0.1 MSun/yr ; TCP(filled) or NTCP(|)", "Adiabatic approximations", "Runaway expansions"], "range": [[1, 0], [1, 0], [5, 4], [5, 4]]}, "legend": {"orient": "none", "legendX": 590, "legendY": 7, "title": null, "fillColor": "white", "strokeColor": "black", "padding": 8, "labelFont": "DejaVu Sans", "labelFontSize": 12, "symbolSize": 346, "labelOffset": 13, "rowPadding": 5, "symbolStrokeWidth": 1.3, "labelLimit": 400}}
        }
      },
      {
        "data": {"values": [{"k": "Runaway expansions", "t": 0, "v": 1.71}, {"k": "Runaway expansions", "t": 2, "v": 1.71}]},
        "mark": {"type": "line", "strokeWidth": 1},
        "encoding": {
          "y": {"field": "v", "type": "quantitative", "scale": {"domain": [-0.5, 2], "nice": false, "zero": false}},
          "stroke": {"field": "k", "type": "nominal"},
          "strokeDash": {"field": "k", "type": "nominal"}
        }
      },
      {
        "data": {"values": [{"t": 0.008, "v": 1.46, "txt": "TCE=15.2 PCBP,0", "c": "#008000"}, {"t": 0.008, "v": 1.2, "txt": "TCE=1.5 PCBP,0", "c": "#ff0000"}]},
        "mark": {"type": "text", "font": "DejaVu Serif", "fontSize": 20, "align": "left", "baseline": "alphabetic"},
        "encoding": {
          "y": {"field": "v", "type": "quantitative", "scale": {"domain": [-0.5, 2], "nice": false, "zero": false}},
          "text": {"field": "txt"},
          "color": {"field": "c", "type": "nominal", "scale": null}
        }
      },
      {
        "data": {"values": [{"x": 0.5, "y": 2}, {"x": 1, "y": 2}, {"x": 1.5, "y": 2}]},
        "mark": {"type": "tick", "orient": "vertical", "size": 10, "thickness": 1, "color": "black", "opacity": 1, "clip": true},
        "encoding": {
          "x": {"field": "x", "type": "quantitative"},
          "y": {"field": "y", "type": "quantitative", "scale": {"domain": [-0.5, 2], "nice": false, "zero": false}}
        }
      },
      {
        "data": {"values": [{"x": 2, "y": -0.5}, {"x": 2, "y": 0}, {"x": 2, "y": 0.5}, {"x": 2, "y": 1}, {"x": 2, "y": 1.5}]},
        "mark": {"type": "tick", "orient": "horizontal", "size": 10, "thickness": 1, "color": "black", "opacity": 1, "clip": true},
        "encoding": {
          "x": {"field": "x", "type": "quantitative"},
          "y": {"field": "y", "type": "quantitative", "scale": {"domain": [-0.5, 2], "nice": false, "zero": false}}
        }
      }
    ]
  },
  {
    "width": 892, "height": 245,
    "layer": [
      {
        "data": {"name": "p3"},
        "encoding": {
          "x": {"field": "t", "type": "quantitative", "scale": {"domain": [0, 2], "nice": false, "zero": false}, "axis": {"values": [0, 0.5, 1, 1.5, 2], "format": ".1f", "title": "t/TCE", "titleY": 40, "titleBaseline": "middle"}}
        },
        "layer": [
          {
            "mark": {"type": "area", "fill": {"expr": "merge(gR, {x2: 1.3967, y2: 0.2912})"}, "stroke": "#ff0000", "strokeWidth": 1, "strokeOpacity": 0.75},
            "encoding": {
              "y": {"field": "L", "type": "quantitative", "scale": {"domain": [0, 1], "nice": false, "zero": false}, "axis": {"values": [0, 0.2, 0.4, 0.6, 0.8, 1.0], "format": ".1f", "title": "eCBP", "titleX": -57, "titleY": 122, "titleAngle": -90, "titleBaseline": "middle"}},
              "y2": {"field": "U"}
            }
          },
          {
            "mark": {"type": "area", "fill": {"expr": "merge(gR, {x1: 0, y1: 1, x2: 1.4186, y2: 0.7654})"}, "stroke": "#ff0000", "strokeWidth": 1, "strokeOpacity": 0.75},
            "encoding": {
              "y": {"field": "M", "type": "quantitative", "scale": {"domain": [0, 1], "nice": false, "zero": false}},
              "y2": {"field": "T"}
            }
          },
          {
            "mark": {"type": "area", "fill": {"expr": "gG"}, "fillOpacity": 0.85, "stroke": "#008000", "strokeWidth": 1, "strokeOpacity": 0.75},
            "encoding": {
              "y": {"field": "gL", "type": "quantitative", "scale": {"domain": [0, 1], "nice": false, "zero": false}},
              "y2": {"field": "gU"}
            }
          },
          {
            "mark": {"type": "area", "fill": "#008000", "fillOpacity": 0.5},
            "encoding": {
              "y": {"field": "fL", "type": "quantitative", "scale": {"domain": [0, 1], "nice": false, "zero": false}},
              "y2": {"field": "fU"}
            }
          },
          {
            "data": {"values": [{"t": 0, "v": 0.978}, {"t": 2, "v": 0.978}]},
            "mark": {"type": "line", "stroke": "black", "strokeWidth": 1, "strokeDash": [5, 4]},
            "encoding": {
              "y": {"field": "v", "type": "quantitative", "scale": {"domain": [0, 1], "nice": false, "zero": false}}
            }
          },
          {
            "data": {"values": [{"x": 0.5, "y": 1}, {"x": 1, "y": 1}, {"x": 1.5, "y": 1}]},
            "mark": {"type": "tick", "orient": "vertical", "size": 10, "thickness": 1, "color": "black", "opacity": 1, "clip": true},
            "encoding": {
              "x": {"field": "x", "type": "quantitative"},
              "y": {"field": "y", "type": "quantitative", "scale": {"domain": [0, 1], "nice": false, "zero": false}}
            }
          },
          {
            "data": {"values": [{"x": 2, "y": 0.2}, {"x": 2, "y": 0.4}, {"x": 2, "y": 0.6}, {"x": 2, "y": 0.8}]},
            "mark": {"type": "tick", "orient": "horizontal", "size": 10, "thickness": 1, "color": "black", "opacity": 1, "clip": true},
            "encoding": {
              "x": {"field": "x", "type": "quantitative"},
              "y": {"field": "y", "type": "quantitative", "scale": {"domain": [0, 1], "nice": false, "zero": false}}
            }
          },
          {
            "data": {"values": [{"k": "r", "t": -1, "v": -1}, {"k": "g", "t": -1, "v": -1}]},
            "mark": {"type": "point", "filled": false, "clip": true, "strokeWidth": 1.3},
            "encoding": {
              "y": {"field": "v", "type": "quantitative", "scale": {"domain": [0, 1], "nice": false, "zero": false}},
              "shape": {"field": "k", "type": "nominal", "scale": {"domain": ["r", "g"], "range": ["M-1.7,-0.5H1.7V0.5H-1.7Z M-0.6,0.5L0.4,-0.5", "M-1.7,-0.5H1.7V0.5H-1.7Z M-0.57,-0.5V0.5 M0.57,-0.5V0.5"]}, "legend": {"orient": "none", "legendX": 537, "legendY": 172, "title": null, "fillColor": "white", "strokeColor": "black", "padding": 8, "labelFont": "DejaVu Serif", "labelFontSize": 15.5, "symbolSize": 400, "labelOffset": 15, "rowPadding": 10, "symbolStrokeWidth": 1.3, "labelLimit": 400, "labelExpr": "'100.0 % remain bound, eCBP < 0.95)'"}},
              "stroke": {"field": "k", "type": "nominal", "scale": {"domain": ["r", "g"], "range": ["#ff0000", "#008000"]}, "legend": {"orient": "none", "legendX": 537, "legendY": 172, "title": null, "fillColor": "white", "strokeColor": "black", "padding": 8, "labelFont": "DejaVu Serif", "labelFontSize": 15.5, "symbolSize": 400, "labelOffset": 15, "rowPadding": 10, "symbolStrokeWidth": 1.3, "labelLimit": 400, "labelExpr": "'100.0 % remain bound, eCBP < 0.95)'"}}
            }
          }
        ]
      },
      {
        "layer": [
          {
            "data": {"values": [{"x0": 0, "x1": 0.3017, "y0": 0, "y1": 0.385}]},
            "mark": {"type": "rect", "fill": "white", "stroke": "black", "strokeWidth": 1},
            "encoding": {
              "x": {"field": "x0", "type": "quantitative", "scale": {"domain": [0, 0.3017], "range": [612, 879], "nice": false, "zero": false}, "axis": {"orient": "bottom", "offset": -158, "values": [0, 0.1, 0.2], "format": ".1f", "title": null}},
              "x2": {"field": "x1"},
              "y": {"field": "y0", "type": "quantitative", "scale": {"domain": [0, 0.385], "range": [87, 13], "nice": false, "zero": false}, "axis": {"orient": "left", "offset": -612, "values": [0], "format": "d", "title": null, "labelPadding": 8}},
              "y2": {"field": "y1"}
            }
          },
          {
            "data": {"name": "inset"},
            "mark": {"type": "line", "strokeWidth": 1.3},
            "encoding": {
              "x": {"field": "t", "type": "quantitative", "scale": {"domain": [0, 0.3017], "range": [612, 879], "nice": false, "zero": false}},
              "y": {"field": "v", "type": "quantitative", "scale": {"domain": [0, 0.385], "range": [87, 13], "nice": false, "zero": false}},
              "stroke": {"field": "s", "type": "nominal", "scale": {"domain": ["r", "g", "ebin"], "range": ["#ff3333", "#33a033", "#3344ff"]}, "legend": {"orient": "none", "legendX": 783, "legendY": 45, "title": null, "values": ["ebin"], "fillColor": "white", "strokeColor": "black", "padding": 7, "labelFont": "DejaVu Serif", "labelFontSize": 16, "symbolSize": 576, "labelOffset": 19, "symbolStrokeWidth": 1.5}}
            }
          }
        ]
      }
    ],
    "resolve": {"scale": {"x": "independent", "y": "independent", "stroke": "independent", "shape": "independent"}, "legend": {"stroke": "independent", "shape": "independent"}}
  }
]
}
